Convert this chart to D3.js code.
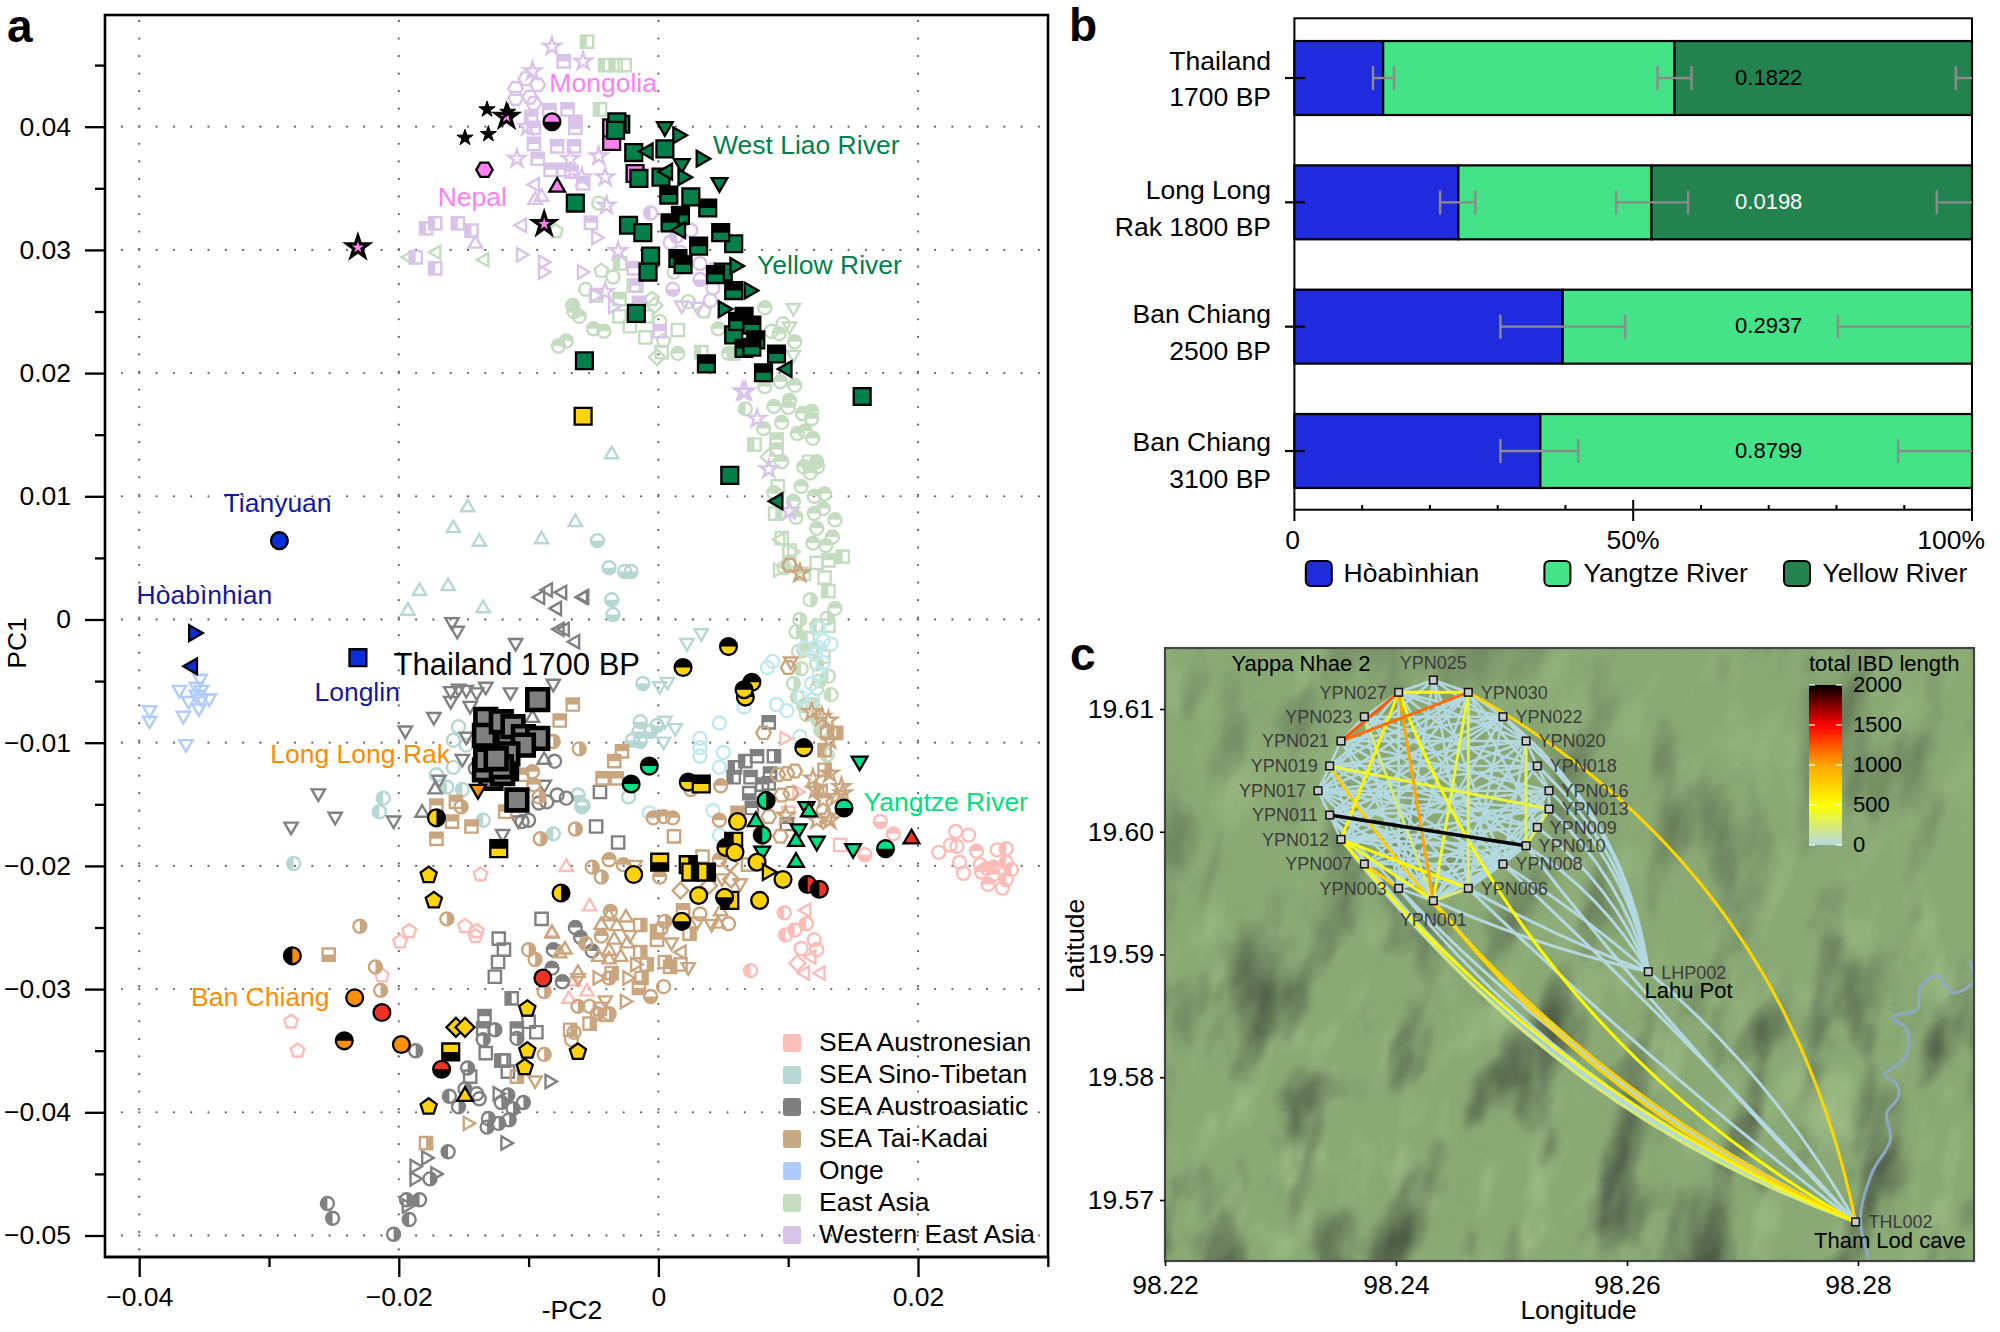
<!DOCTYPE html>
<html><head><meta charset="utf-8">
<script src="https://cdnjs.cloudflare.com/ajax/libs/d3/7.8.5/d3.min.js"></script>
<style>html,body{margin:0;padding:0;background:#fff}svg{display:block}text{font-family:"Liberation Sans",Arial,sans-serif}</style>
</head><body><svg id="fig" width="2000" height="1332"></svg>
<script>
// ---------- panel a: values are PC2 x 1000 and PC1 x 1000, code = shape + filled half ----------
const westernEastAsia = [
[-8.2,46.5,"*o"],[-5.8,45.3,"*o"],[-9.7,44.5,"*o"],[-10.1,40,"*o"],[-10.9,37.4,"*o"],[-6.8,37.4,"*o"],[-4.6,37.6,"*o"],[-4.1,35.9,"*o"],[-5.9,35.9,"*o"],[-4,33.6,"*o"],[-3.1,29.9,"*o"],[-4.1,26.6,"*o"],[6.5,18.5,"*o"],[7.6,16.3,"*o"],[8.5,12.2,"*o"],[10.1,8.8,"*o"],[6.7,18.5,"*o"],
[-11,43.1,"ho"],[-10.2,43.9,"ho"],[-11,42.3,"ho"],[-9.9,42.4,"ho"],[-9.3,43.4,"ho"],[-9.6,41.9,"ho"],
[-8.4,41.35,"st"],[-7,41.4,"st"],[-6.4,40.4,"st"],[-6.4,39.9,"st"],[-9.6,38.6,"st"],[-7.8,38.4,"st"],[-6.5,38.4,"st"],[-9.3,37.4,"st"],[-8.3,36.5,"st"],[-7.3,36.5,"st"],[-6.7,36.35,"st"],[-5.8,35.4,"st"],[-5.2,32.2,"st"],[-9.8,40.8,"st"],[-9.6,39.9,"st"],[-7.3,45.3,"st"],[0.1,23.4,"st"],[-1.9,28.5,"st"],[-1.7,27.1,"st"],[-1.5,25.7,"st"],
[-17.9,31.75,"sL"],[-17.2,32.15,"sL"],[-15.45,32.15,"sL"],[-14.4,31.56,"sL"],[-18.7,29.4,"sL"],[-17.2,28.5,"sL"],
[-10.5,32,"lo"],[-9.5,35.3,"lo"],[-10.6,29.6,"ro"],[-8.9,29,"ro"],[-8.9,28.2,"ro"],[-5.9,28.2,"ro"],[-4.8,31,"ro"],[-3.5,25.4,"ro"],[-4.9,26.3,"ro"],[-9.5,34.05,"uo"],[-14.1,30.5,"uo"],[-9,34.3,"uo"],
[-0.6,33,"cL"],[1.4,31.1,"cL"],[1.1,26.8,"cb"],[3.2,27.6,"cb"],[4.2,28.4,"cL"],[3.2,28.9,"co"],[4.2,26.9,"co"],[4,25.9,"co"],[1.8,25.5,"do"],[3,25.4,"do"],[2.5,31.6,"co"],[0.9,30.6,"co"],[1.7,29.8,"cb"]];
const eastAsia = [
[-5.5,46.9,"sL"],[-4.1,45,"sL"],[-3.3,45,"sL"],[-2.6,45,"so"],[-4.5,41.4,"sL"],[-4.6,33.8,"co"],[-3.5,27.8,"co"],[-5.6,26.8,"co"],[-6.6,25.5,"ct"],[-6.5,25,"ct"],[-6.1,24.6,"ct"],[-5,23.6,"ct"],[-4.2,23.4,"ct"],[-7.7,22.2,"ct"],[-7.1,22.6,"ct"],
[-7.9,31.5,"po"],[-4.4,28.3,"po"],[-17.1,29.8,"lo"],[-13.4,29.2,"lo"],[-19.2,29.4,"lo"],[-0.5,26,"po"],[3.5,25,"po"],[0.4,22.6,"po"],[1.2,28.2,"co"],
[-2.95,28.9,"sL"],[-3,24.6,"so"],[-2.2,23.8,"so"],[-1,22.9,"so"],[1.5,23.5,"so"],[0.25,21.7,"so"],[3.3,21.7,"sL"],[-1.9,27.1,"so"],[-3,26,"st"],[-0.9,24.6,"so"],[-4.8,26.3,"so"],[-0.1,21.3,"mo"],[-0.3,25.5,"mo"],
[0.1,24.2,"co"],[2.3,25.8,"co"],[1.5,21.6,"ct"],[4.6,23.6,"ct"],[5.4,21.6,"ct"],[8.2,25.3,"ct"],[8.7,23.4,"co"],[10.4,25.3,"do"],[10.1,23.8,"do"],[10.4,21.5,"do"],[5.8,21.6,"sL"],[9.3,23.2,"ct"],[9.6,24,"co"],
[10.5,22.55,"ct"],[10.5,19,"ct"],[9.4,19.3,"ct"],[8.2,18.9,"ct"],[8.9,17.3,"ct"],[10.1,17.8,"ct"],[10,17.2,"ct"],[11.1,16.7,"ct"],[11.8,16.9,"ct"],[11.8,16.3,"ct"],[9.5,16,"ct"],[8.1,15.5,"ct"],[10.7,15.1,"ct"],[11.3,15.3,"ct"],[11.9,14.7,"ct"],[9.5,12.8,"ct"],[11.2,12.4,"ct"],[12.25,12.4,"ct"],[12.2,12.8,"ct"],[11.7,11.9,"ct"],[11,10.8,"ct"],[8.9,10.3,"ct"],[10.4,9.6,"ct"],[12,10,"ct"],[12.8,10.2,"ct"],[12.7,9,"ct"],[12,8.6,"ct"],[10.6,8.3,"ct"],[13.6,8.1,"ct"],[12.2,7.4,"ct"],[13.4,6.7,"ct"],[11.9,6.2,"ct"],[12.9,6,"ct"],[11.7,1.6,"cR"],[13.6,0.9,"ct"],[10.9,0,"cR"],[13,0.1,"cR"],[6.7,17.1,"cL"],
[7.4,14.2,"sL"],[9.1,14.6,"st"],[9.1,13.8,"st"],[11.6,12.8,"so"],[9,8.6,"sR"],[9.2,10.8,"so"],[9.5,6.6,"so"],[10.1,5.6,"so"],[14.2,5.1,"sL"],[12.2,4.6,"so"],[13.1,4.8,"st"],[11.2,3.7,"st"],[12.8,3.4,"so"],[13.1,2.3,"sL"],[9.4,6.5,"lo"],[10.3,5.5,"ro"],[9.2,4,"ro"],[8.5,13.2,"mo"],[10.1,4.7,"cL"],
[9.7,4.2,"cR"],[10.6,-1,"cR"],[12.2,-0.5,"cL"],[13.1,-0.5,"so"],[11.2,-2.5,"ct"],[12.2,-3.6,"cR"],[13.1,-4.6,"cL"],[12.2,-5.6,"co"],[13.3,-6.1,"cL"],[11.4,-7.7,"co"],[12.3,-8.2,"cL"],[12.7,-3,"so"],[11.5,-1.5,"cL"],[11.9,-6.9,"cR"],[11.2,-7,"cL"],[12.5,-9,"cL"],[13,-11,"cL"],[11,-4,"cL"],[10.4,-5.2,"cR"],[10.7,-6.3,"cL"],[12,-2.4,"ct"],[10.8,-2.6,"cR"],[12.4,-5,"cR"]];
const cyanGroup = [
[12.3,-0.7],[11.3,-2.3],[12.2,-2.2],[12.7,-1.7],[13.3,-2],[12.1,-2.8],[8.8,-3.4],[8.4,-3.9],[12.4,-4.4],[11.8,-5.2],[11,-6.3],[11.9,-6.5],[9.1,-6.9],[9.9,-7.4],[6.6,-7.1],[10.9,-9.5],[4.7,-8.4],[3.2,-9.65],[3.2,-11.1],[5,-10.8],[4.7,-12],[4.2,-15.5],[-0.7,-15.7],[4.7,-17.5],[3.2,-10.4],[12.7,-3.5]];
const onge = [
[-35.3,-4.8],[-36.9,-5.7],[-35.2,-5.7],[-35.6,-6.1],[-36.2,-6.6],[-35.2,-6.4],[-34.6,-6.4],[-35.4,-7.2],[-36.6,-7.8],[-39.2,-7.35],[-39.2,-8.2],[-36.4,-10.1],[-35.6,-5.45]];
const seaSinoTibetan = [
[-14.7,9.1,"uo"],[-15.8,7.4,"uo"],[-13.8,6.3,"uo"],[-9,6.5,"uo"],[-6.4,7.9,"uo"],[-3.6,13.4,"uo"],[-18.4,2.3,"uo"],[-16.2,2.7,"uo"],[-19.3,0.7,"uo"],[-13.5,0.9,"uo"],
[-4.7,6.4,"cb"],[-3.8,4.2,"cb"],[-3.6,1.6,"cb"],[-3.5,0.4,"cb"],[-2.6,3.9,"cb"],[-2.1,3.9,"cb"],[-1.2,-5.2,"cb"],[-1.4,-8.3,"cb"],[-0.6,-9.1,"cb"],[-0.1,-8.6,"cb"],[-2,-9.8,"cb"],[-1.4,-9.9,"cb"],[-1.5,-9.1,"cb"],[-6.2,-14.25,"cb"],[-5.8,-15.1,"cb"],[-2.3,-14.4,"co"],
[3.3,-1.1,"do"],[2.2,-1.9,"do"],[0.7,-5.05,"do"],[0.1,-5.4,"do"],[0.5,-8.2,"do"],[1.3,-8.8,"do"],[0.4,-9.9,"do"],
[-15.4,-8.7,"co"],[-15.8,-9.8,"co"],[-14.8,-10.2,"co"],[-15.8,-12,"co"],[-17.1,-12.6,"co"],[-16.3,-13.6,"cL"],[-15.1,-13.8,"cL"],[-13.5,-16.3,"cL"],[-21.2,-14.5,"cL"],[-21.5,-15.6,"cL"],[-6.2,-14.25,"co"],[-5.9,-15.2,"co"],[-8.1,-17.4,"cL"],[-28.1,-19.8,"cL"]];
const seaAustroasiatic = [
[-15.9,-0.2,"do"],[-15.5,-0.9,"do"],[-11,-1.9,"do"],[-11.4,-5.9,"do"],[-16,-5.8,"do"],[-15.4,-5.6,"do"],[-14.8,-5.7,"do"],[-14,-5.9,"do"],[-13.3,-5.45,"do"],[-16,-6.6,"do"],[-14.5,-7,"do"],[-17.3,-7.9,"do"],[-19.5,-9,"do"],[-14.8,-9.5,"do"],[-15.1,-11.3,"do"],[-16.9,-13,"do"],[-26.2,-14.1,"do"],[-24.9,-16,"do"],[-28.3,-16.8,"do"],[-20.4,-16.3,"do"],[-12,-17.4,"do"],[-10.8,-16.3,"do"],[-8.8,-13.4,"do"],[-8.1,-5.2,"do"],
[-17.2,-13.8,"uo"],[-18.2,-15.7,"uo"],[-9.7,-8,"uo"],[-8.8,-11.4,"uo"],
[-8.5,2.4,"lo"],[-9.1,1.8,"lo"],[-7.4,2.2,"lo"],[-5.8,1.8,"lo"],[-7.8,0.9,"lo"],[-7.2,-0.8,"lo"],[-7.6,-0.8,"lo"],[-6.4,-1.8,"lo"],[-5.7,1.85,"lo"],
[-8,-11.5,"co"],[-7.8,-14.25,"co"],[-7.1,-14.5,"co"],[-9.2,-14.9,"co"],[-10.5,-16.4,"co"],[-10,-16.3,"co"],[-8.6,-14.8,"co"],[-14.1,-12.1,"co"],
[-4.5,-14,"so"],[-4.8,-16.8,"so"],[-3.1,-18.1,"so"],
[8.5,-8.35,"st"],[8.9,-11.1,"sR"],[7.6,-11.1,"st"],[6.7,-11.5,"sL"],[5.9,-12,"sL"],[5.8,-12.8,"sL"],[7.1,-12.8,"st"],[8,-13.4,"st"],[7,-14.1,"sb"],[8.5,-13.3,"st"],[7.2,-15.3,"st"],[9.9,-16.6,"st"],[8.6,-12.5,"st"],
[-9,-24.3,"so"],[-12.3,-25.9,"so"],[-11.9,-26.8,"so"],[-12.35,-27.8,"so"],[-12.6,-29,"so"],[-11.3,-30.75,"sL"],[-13.4,-32.2,"st"],[-13.5,-33.2,"st"],[-10.9,-33.2,"st"],[-9.4,-33.5,"so"],[-10,-32.65,"so"],[-13.3,-35.2,"so"],[-12.1,-35.8,"sL"],[-14.5,-37.1,"so"],[-11.6,-36.7,"so"],[-11.9,-35.8,"so"],
[-6.4,-25,"ct"],[-6,-25.8,"ct"],[-5.1,-26.9,"ct"],[-8.1,-26.8,"ct"],[-8.2,-28.3,"ct"],[-7.4,-29.4,"ct"],[-18.7,-35,"cR"],[-12.6,-33.3,"cR"],[-13.5,-34.1,"cR"],[-10.9,-34,"cR"],[-14.7,-36.4,"cR"],[-16.1,-38.7,"cL"],[-14.9,-38.1,"cR"],[-14,-38.5,"co"],[-15.4,-39.55,"cR"],[-13.8,-38.9,"co"],[-11.6,-38.6,"cR"],[-12.1,-39.2,"cR"],[-10.4,-39.2,"cR"],[-11.2,-39.7,"cR"],[-13.1,-40.5,"cR"],[-11.5,-40.6,"cR"],[-12.3,-40.9,"cR"],[-13.2,-41.2,"cR"],[-16.2,-43.2,"cL"],[-17.6,-45.4,"cR"],[-18.4,-47.1,"cL"],[-19.4,-47.1,"cR"],[-25.5,-47.4,"cL"],[-25.1,-48.6,"cL"],[-19.2,-48.7,"cL"],[-20.4,-49.9,"cR"],
[-8.4,-37.5,"ro"],[-11.8,-42.5,"ro"],[-17.9,-43.7,"ro"],[-18.8,-44.4,"ro"],[-18.8,-45.4,"ro"],[-17.2,-45,"ro"],[-12.4,-38.5,"ro"],[-19.4,-47.6,"ro"]];
const seaTaiKadai = [
[-6.6,-6.9,"st"],[-7.6,-8.2,"st"],[-3.4,-11.5,"st"],[-4.3,-12.9,"st"],[-17.1,-15.1,"st"],[-15.6,-14.8,"st"],[-14.4,-16.8,"st"],[-15.9,-16.4,"st"],[-17.1,-17.8,"st"],[-11.8,-15.6,"st"],[-10.5,-12.6,"st"],[-2.8,-10.7,"st"],[-3.2,-12.9,"st"],
[-8.1,-9.9,"cR"],[-6.1,-10.5,"cR"],[-9.7,-12.35,"ct"],[-9.6,-13.4,"ct"],[-15.2,-15.2,"cR"],[-9.2,-14.4,"cR"],[-6.4,-17,"cR"],[-9.1,-17.8,"cR"],[0.4,-16,"ct"],[-0.4,-16.1,"ct"],[1.1,-16.1,"ct"],[4.7,-16.3,"ct"],[4.8,-13.5,"ct"],[2.5,-13.8,"ct"],[-5.1,-20.1,"cR"],[-3.8,-19.5,"ct"],[-2.7,-19.9,"ct"],[-4.4,-20.9,"cR"],[0.1,-20.9,"ct"],[4.7,-19.5,"ct"],
[1.2,-17.6,"so"],[3.4,-19.25,"so"],[6.1,-15.7,"st"],[-1.8,-19.9,"do"],[1.7,-22,"mo"],[5.5,-19.8,"mo"],[6.3,-21.4,"do"],[4.9,-21,"do"],[5.6,-21.1,"mo"],[6.9,-19.9,"so"],[7.9,-17.5,"ct"],[3.9,-21.6,"mo"],
[8.1,-9.2,"ho"],[10,-3.9,"ho"],[9.2,-12.6,"ho"],[9.9,-12.5,"ho"],[10.5,-12.3,"ho"],[9.5,-14.25,"ho"],[10.2,-14.1,"ho"],[8.5,-16,"ho"],[9.4,-17.6,"ho"],[10.1,4.4,"ho"],[10.2,-3.4,"do"],
[10.9,3.75,"*o"],[11.8,-7.5,"*o"],[12.6,-7.9,"*o"],[13.1,-8.2,"*o"],[13.2,-9.8,"*o"],[11.9,-12.9,"*o"],[13.2,-12.5,"*o"],[14.1,-13.6,"*o"],[12.1,-13.8,"*o"],[12.7,-14.65,"*o"],[13.7,-14.4,"*o"],[13.2,-16.3,"*o"],[12.2,-16.3,"*o"],[13,-16,"*o"],[14.2,-14.1,"*o"],[9.8,-15.9,"*o"],
[13,-9.2,"sR"],[13.7,-9.2,"sR"],[12.8,-12.2,"sR"],[12.8,-10.6,"sL"],[12.5,-13.9,"sL"],
[-3.7,-23.7,"ct"],[-4.4,-25.7,"ct"],[-5.6,-26.3,"cL"],[-3.8,-29.1,"cR"],[-6.2,-31.4,"cR"],[-5.3,-31.4,"co"],[-4.7,-32,"cR"],[-3.8,-32,"cR"],[0.4,-29.8,"co"],[-0.6,-30.6,"cb"],[0.2,-25.1,"co"],[0.5,-24.5,"cR"],[3.2,-23.9,"co"],[5.4,-24.7,"co"],[-6.5,-33.5,"co"],[-6.7,-34.1,"co"],
[-3.8,-24.1,"uo"],[-4.4,-24.8,"uo"],[-2.5,-24.2,"uo"],[-3.2,-24.9,"uo"],[-3.4,-26,"uo"],[-2.4,-26.3,"uo"],[-3.8,-26.9,"uo"],[-2.9,-27.4,"uo"],[-3.8,-27.6,"uo"],[-4.6,-27.4,"uo"],[-7.2,-26.8,"uo"],[-7.6,-27.1,"uo"],[-6.2,-28.7,"uo"],[-6.2,-29.1,"do"],[-8.2,-25.5,"uo"],[4.6,-24.7,"uo"],[4.8,-23.7,"uo"],
[-1.4,-24.8,"sR"],[-0.1,-25.3,"sL"],[-0.1,-26,"st"],[-1.4,-27,"sR"],[-0.9,-28,"sR"],[0.5,-27.8,"sR"],[0.9,-28.2,"sR"],[-1.3,-29.1,"sR"],[-1.5,-29.9,"sb"],[-3.6,-28.7,"sR"],[1.9,-23.6,"st"],[2.4,-25.5,"sR"],[1.7,-28,"so"],[-6.8,-33.3,"sR"],[-5.3,-32.8,"sR"],[-4,-32.1,"so"],[-4.5,-31.6,"so"],
[-2.2,-25.6,"do"],[1,-26.2,"do"],[2.3,-28.2,"do"],[4.1,-24.7,"do"],[3,-24.5,"do"],[-4.1,-30.9,"do"],[1.8,-27,"lo"],[-2.6,-31,"ro"],[-4.7,-29.1,"ro"],[-2.4,-29.1,"ro"],[-1.8,-28,"ro"],
[-23,-24.9,"cR"],[-25.4,-27.2,"sb"],[-21.8,-28.2,"cR"],[-21.4,-30.1,"cR"],[-16.3,-24.3,"cR"],[-10,-26.8,"cR"],[-9.5,-27.6,"cR"],[-8.8,-30.2,"cR"],[-8.8,-35.3,"cR"],[-10.9,-37.1,"sR"],[-9.5,-37.4,"do"],[-14.7,-40.9,"ro"],[-17.9,-42.5,"sR"]];
const seaAustronesian = [
[22.9,-17.2,"co"],[23.9,-17.5,"co"],[22.5,-18.3,"co"],[23,-18.4,"co"],[21.6,-18.9,"co"],[23.2,-19.7,"co"],[24.5,-18.8,"ct"],[26.1,-18.7,"co"],[26.8,-18.6,"cL"],[23.5,-20.6,"co"],[24.8,-19.9,"co"],[25.3,-20.2,"ct"],[25.8,-20.1,"ct"],[24.9,-20.5,"ct"],[26.8,-19.7,"cL"],[27.2,-20.3,"cL"],[25.8,-20.7,"ct"],[26.8,-21.1,"cL"],[25.4,-21.5,"ct"],[26.5,-21.8,"co"],[18.1,-17.4,"ct"],[17.1,-16.4,"cb"],[15.9,-19.1,"cb"],
[14,-18.3,"so"],[10,-15.7,"so"],[9.7,-9.65,"ro"],[10.7,-14,"ro"],[-7.1,-20.1,"uo"],[-5.3,-23.3,"uo"],[-5.5,-30.2,"uo"],[-6.9,-30.8,"uo"],[-6.5,-29.4,"uo"],
[9.7,-23.8,"cL"],[9.8,-25.6,"cL"],[10.5,-25.2,"cL"],[11.4,-24.7,"cL"],[12,-26,"co"],[12.2,-26.8,"co"],[11,-26.7,"co"],[10.7,-27.9,"mo"],[11.3,-28.7,"lo"],[12.5,-28.7,"lo"],[7.1,-28.5,"cL"],[11.4,-23.6,"lo"],[11.8,-27.4,"lo"],
[-19.2,-25.3,"po"],[-19.9,-26.15,"po"],[-14.9,-24.9,"po"],[-14.1,-25.7,"po"],[-21.3,-28.9,"po"],[-28.3,-32.65,"po"],[-27.8,-35,"po"],[-13.7,-20.7,"po"],[-14,-25.3,"po"],[-8.2,-25.4,"uo"]];
// ancient samples: [PC2, PC1, shape, colour name, half drawn black]
const pinkSquares = [[-3.6,38.8],[-3.6,39.9],[-1.8,36.2]];
const riverSquares = [[-2.9,40.2],[-3.2,40.4],[-3.3,39.7],[-1.9,37.9],[0.5,38.2],[-1.5,35.8],[0.2,35.9],[2.5,34.3],[-2.3,32],[-1.2,31.4],[5.8,30.5],[-0.6,29.5],[-0.8,28.2],[5,28.2],[-1.7,24.85],[5.8,23.1],[-5.7,21],[15.7,18.1],[-6.4,33.8],[5.5,11.7]];
const riverSquaresHalf = [[0.8,34.45],[3.8,33.4],[1.7,32.8],[0.9,32.2],[4.8,31.4],[3.1,30.3],[1.5,29.3],[1.9,28.8],[4.4,28],[5.8,26.7],[6.6,24.6],[6.1,24.2],[7.2,23.9],[7.5,22.7],[6.6,22],[7.2,22.1],[9.1,21.55],[3.7,20.75],[8.1,20.03]];
const riverTriangles = [[0.5,40,"d"],[1.5,39.3,"r"],[-0.8,38,"l"],[3.3,37.4,"r"],[1.8,37,"d"],[0.7,36.35,"l"],[1.9,35.9,"r"],[4.7,35.45,"d"],[5.9,28.7,"r"],[7,26.7,"r"],[5,25.2,"r"],[9.9,20.33,"l"],[1.7,31.6,"l"],[9.2,9.6,"l"]];
const thailand1700 = [[-9.3,-6.5],[-13.3,-10.3],[-12.8,-9.4],[-11.6,-9.8],[-11.7,-12.1],[-12.9,-12.9],[-13.4,-12.2],[-13.3,-8.1],[-13.4,-9.4],[-12.1,-8.3],[-11.2,-8.7],[-10.4,-9.5],[-9.3,-9.65],[-10.4,-10.2],[-11.6,-10.9],[-13.3,-11.4],[-12,-12.5],[-12.1,-11.95],[-12.5,-11.3],[-10.9,-14.65]];
const ancientMarks = [
[-23.15,30.2,"*","pink","n"],[-8.8,32.1,"*","pink","n"],[-11.7,40.8,"*","pink","n"],[-13.2,41.4,"*","black","n"],[-11.6,41.2,"*","black","n"],[-13.1,39.4,"*","black","n"],[-14.9,39.1,"*","black","n"],[-13.4,36.5,"h","pink","n"],[-8.2,40.4,"c","pink","b"],[-7.8,35.1,"u","pink","n"],
[-29.2,6.4,"c","blue","n"],[-35.8,-1.1,"r","blue","n"],[-35.9,-3.8,"l","blue","n"],[-23.15,-3.1,"s","blue","n"],[-5.8,16.5,"s","yellow","n"],
[-13.9,-13.8,"d","orange","n"],[-17.1,-16.1,"c","yellow","r"],
[5.4,-2.2,"c","yellow","t"],[1.9,-3.9,"c","yellow","t"],[7.2,-5.1,"c","yellow","t"],[6.7,-6.3,"c","yellow","t"],[6.6,-5.7,"c","yellow","t"],[11.2,-10.4,"c","yellow","t"],
[-0.7,-11.9,"c","green","t"],[-2.1,-13.35,"c","green","t"],[2.3,-13.2,"c","yellow","t"],[3.3,-13.35,"s","yellow","t"],
[8.3,-14.7,"c","green","r"],[8,-17.5,"c","green","l"],[14.3,-15.3,"c","green","b"],[17.5,-18.6,"c","green","b"],
[15.5,-11.5,"d","green","n"],[11.4,-15.2,"d","green","n"],[12.2,-18,"d","green","n"],[15,-18.6,"d","green","n"],[8,-18.8,"d","green","n"],[10.8,-17,"d","green","n"],
[11.6,-15.6,"u","green","n"],[7.5,-16.4,"u","green","n"],[10.6,-18,"u","green","n"],[10.6,-19.7,"u","green","n"],
[19.5,-17.8,"u","red","n"],[11.5,-21.5,"c","red","l"],[12.4,-21.9,"c","red","l"],
[5.8,-18,"s","yellow","l"],[0.1,-19.7,"s","yellow","b"],[2.3,-19.9,"s","yellow","r"],[2.5,-20.5,"s","yellow","r"],[3.7,-20.5,"s","yellow","r"],[5.5,-22.8,"s","yellow","l"],
[6.1,-16.4,"c","yellow","n"],[5.2,-18.5,"c","yellow","t"],[5.9,-18.9,"c","yellow","n"],[7.6,-19.7,"c","yellow","n"],[-1.9,-20.7,"c","yellow","n"],[9.6,-21.1,"c","yellow","n"],[3.1,-22.4,"c","yellow","n"],[7.8,-22.8,"c","yellow","n"],[5.1,-22.55,"c","yellow","b"],[1.8,-24.5,"c","yellow","b"],[-7.5,-22.2,"c","yellow","r"],
[8.4,-20.5,"r","yellow","n"],[-12.3,-18.6,"s","yellow","t"],
[-28.2,-27.3,"c","orange","l"],[-23.4,-30.7,"c","orange","n"],[-19.8,-34.5,"c","orange","n"],[-24.2,-34.2,"c","orange","t"],[-21.3,-31.9,"c","red","n"],[-8.9,-29.1,"c","red","n"],[-16.7,-36.5,"c","red","b"],
[-10.1,-31.6,"p","yellow","n"],[-10.1,-35,"p","yellow","n"],[-6.2,-35.1,"p","yellow","n"],[-10.3,-36.35,"p","yellow","n"],[-17.7,-39.55,"p","yellow","n"],[-17.7,-20.75,"p","yellow","n"],[-17.3,-22.8,"p","yellow","n"],
[-15.6,-33.1,"m","yellow","n"],[-14.9,-33.1,"m","yellow","n"],[-14.9,-38.7,"u","yellow","n"],[-16,-35.1,"s","yellow","b"]];
const colourNames = ["pink","blue","yellow","orange","green","red","black"];
const colourValues = ["#ff80f2","#0a2fd8","#ffd30a","#ff8f05","#00df85","#ee3224","#000000"];
const pcaLabelText = ["Mongolia","Nepal","West Liao River","Yellow River","Tianyuan","Hòabìnhian","Longlin","Thailand 1700 BP","Long Long Rak","Ban Chiang","Yangtze River"];
const pcaLabelPC2 = [-8.4,-17,4.2,7.6,-33.5,-40.2,-26.5,-20.4,-29.9,-36,15.8];
const pcaLabelPC1 = [43.6,34.3,38.5,28.8,9.5,2,-5.9,-3.6,-10.9,-30.6,-14.8];
const pcaLabelColours = ["#ff80f2","#ff80f2","#007f4f","#007f4f","#14199c","#14199c","#14199c","#000000","#ff8c00","#ff8c00","#00e080"];
const pcaLegendNames = ["SEA Austronesian","SEA Sino-Tibetan","SEA Austroasiatic","SEA Tai-Kadai","Onge","East Asia","Western East Asia"];
const pcaLegendColours = ["#fdbdb8","#b7d7d5","#7f7f7f","#c8a783","#afcbfb","#c4dcbf","#d9c3e8"];
// ---------- panel b ----------
const samples = ["Thailand|1700 BP","Long Long|Rak 1800 BP","Ban Chiang|2500 BP","Ban Chiang|3100 BP"];
const sampleLabelShift = [-17.5,-12.5,-13,-9];
const hoabinhian = [13.1,24.2,39.6,36.3];
const yangtze = [43,28.5,60.4,63.7];
const yellowRiver = [43.9,47.3,0,0];
const pValues = ["0.1822","0.0198","0.2937","0.8799"];
const pValueColours = ["#000","#fff","#000","#000"];
const errorBars = [[0,11.6,14.7],[0,53.6,58.6],[0,97.6,100],[1,21.5,26.7],[1,47.5,58.1],[1,94.8,100],[2,30.4,48.8],[2,80.2,100],[3,30.4,41.9],[3,89.1,100]];
const ancestryNames = ["Hòabìnhian","Yangtze River","Yellow River"];
const ancestryColours = ["#1f2bdc","#45e388","#22834f"];
// ---------- panel c ----------
const nodeIds = [25,27,30,23,22,21,20,19,18,17,16,13,11,9,12,10,7,8,3,6,1];
const nodeLon = [98.24323,98.24023,98.24626,98.23726,98.24926,98.23524,98.25126,98.23426,98.25223,98.23325,98.25325,98.25325,98.23426,98.25223,98.23524,98.25126,98.23726,98.24926,98.24023,98.24626,98.24323];
const nodeLat = [19.61236,19.61136,19.61136,19.60937,19.60937,19.60739,19.60739,19.60536,19.60536,19.60334,19.60334,19.60185,19.60136,19.60036,19.59938,19.59886,19.59737,19.59737,19.59539,19.59539,19.59438];
const nodeSide = ["top","left","right","left","right","left","right","left","right","left","right","right","left","right","left","right","left","right","left","right","bottom"];
const outerSites = ["LHP002","THL002"];
const outerLon = [98.26184,98.27979];
const outerLat = [19.5886,19.56821];
const paleIBD = 5;
const palePairs = [[27,25],[25,30],[30,22],[22,20],[20,18],[18,16],[16,13],[13,9],[9,10],[10,8],[8,6],[6,1],[1,3],[3,7],[7,12],[12,11],[11,17],[17,19],[19,21],[21,23],[23,27],
[25,6],[25,3],[25,8],[25,19],[25,20],[27,8],[27,13],[27,20],[27,22],[27,3],[27,17],[30,3],[30,12],[30,19],[30,17],[30,11],[30,9],[30,16],
[23,22],[23,18],[23,13],[23,10],[23,8],[23,3],[21,22],[21,20],[21,16],[21,10],[21,6],[21,1],[19,20],[19,18],[19,9],[19,8],[19,1],[19,7],
[17,22],[17,18],[17,16],[17,13],[17,9],[17,8],[17,6],[17,1],[11,22],[11,20],[11,16],[11,13],[11,8],[11,6],[11,3],
[12,22],[12,18],[12,13],[12,9],[12,10],[12,8],[7,20],[7,16],[7,10],[7,8],[7,6],[3,22],[3,16],[3,10],[3,8],[1,20],[1,18],[1,13],[1,10],[1,8],[6,22],[6,16],[6,9],[8,20],[8,16],[8,13]];
const hotEdges = [[23,1,210],[20,10,330],[13,10,300],[30,6,280],[19,13,360],[30,1,370],[12,1,420],[6,1,250],[12,6,520],[27,12,560],[27,30,520],[7,3,780],[27,1,1000],[30,21,1170],[27,21,1230],[11,10,2000]];
// distant edges: from, to, total IBD, bend as a share of the distance
const longEdges = [
[20,"LHP002",5,0.18],[18,"LHP002",5,0.17],[16,"LHP002",5,0.16],[13,"LHP002",5,0.14],[9,"LHP002",5,0.14],[10,"LHP002",5,0.12],[8,"LHP002",5,0.04],[6,"LHP002",5,-0.04],[1,"LHP002",5,-0.05],[22,"LHP002",5,0.2],
["LHP002","THL002",5,0.09],[8,"THL002",5,0.02],[10,"THL002",5,-0.03],[6,"THL002",5,-0.03],
[12,"THL002",5,-0.14],[3,"THL002",5,-0.13],[11,"THL002",5,-0.145],[1,"THL002",5,-0.12],[7,"THL002",230,-0.145],[3,"THL002",5,-0.09],
[30,"THL002",730,0.23],[27,"THL002",520,-0.18],[19,"THL002",760,-0.14],[1,"THL002",730,-0.13],[12,"THL002",540,-0.125]];
const riverLon = [98.2897,98.29,98.2882,98.2869,98.2854,98.2851,98.283,98.2843,98.2841,98.2823,98.2833,98.2835,98.2825,98.2828,98.2812,98.2802,98.281];
const riverLat = [19.5895,19.5878,19.5869,19.5883,19.5873,19.5855,19.5849,19.5838,19.5816,19.5802,19.5795,19.5784,19.5771,19.5749,19.5722,19.5684,19.5651];
const ibdStops = [0,500,1000,1500,2000];
const ibdColours = ["#b3d8e2","#ffff00","#ffa500","#ff0000","#000000"];

// ==================================================================
const svg = d3.select("#fig");
const FS = 26.5;
const defs = svg.append("defs");
[["t",-30,-30,60,30],["b",-30,0,60,30],["L",-30,-30,30,60],["R",0,-30,30,60]].forEach(c=>{
  defs.append("clipPath").attr("id","half"+c[0]).append("rect").attr("x",c[1]).attr("y",c[2]).attr("width",c[3]).attr("height",c[4]);
});
const deg = Math.PI/180;
const radial = d3.lineRadial().curve(d3.curveLinearClosed);
const poly = (angles,r)=>radial(angles.map(a=>[a*deg,r]));
const triAngles = {u:[0,120,240],d:[180,300,60],r:[90,210,330],l:[270,30,150]};
function markPath(s,base){
  if(s==="c") return d3.symbol(d3.symbolCircle,Math.PI*base*base)();
  if(s==="s") return d3.symbol(d3.symbolSquare,4*base*base*0.92)();
  if(s==="*") return d3.symbol(d3.symbolStar,Math.pow(base*1.42,2)/0.8908)();
  if(s==="p") return poly([0,72,144,216,288],base*1.12);
  if(s==="h") return poly([30,90,150,210,270,330],base*1.14);
  if(s==="m") return poly([0,90,180,270],base*1.25);
  return poly(triAngles[s],base*1.2);
}
// ---- panel a ----
const pa = {l:105,r:1048,t:15,b:1257};
const xA = d3.scaleLinear().domain([-0.04,0.02]).range([139.2,918]);
const yA = d3.scaleLinear().domain([-0.05,0.04]).range([1235.5,126.7]);
const gA = svg.append("g");
const dots = gA.append("g").attr("stroke","#666").attr("stroke-width",2.3).attr("stroke-linecap","round");
[-0.04,-0.02,0,0.02].forEach(v=>dots.append("line").attr("x1",xA(v)).attr("x2",xA(v)).attr("y1",21).attr("y2",1253).attr("stroke-dasharray","0 17.55"));
d3.range(-5,5).forEach(i=>dots.append("line").attr("x1",122).attr("x2",1040).attr("y1",yA(i*0.01)).attr("y2",yA(i*0.01)).attr("stroke-dasharray","0 17.3"));
function drawPale(data,colour,defCode,r,sw){
  const g = gA.append("g");
  data.forEach(d=>{
    const code = d[2]||defCode, s=code[0], h=code[1];
    const p = g.append("g").attr("transform",`translate(${xA(d[0]/1000)},${yA(d[1]/1000)})`);
    const rr = s==="c"?r+0.1:r;
    const path = markPath(s,rr);
    if(h!=="o") p.append("g").attr("clip-path",`url(#half${h})`).append("path").attr("d",path).attr("fill",colour);
    p.append("path").attr("d",path).attr("fill","none").attr("stroke",colour).attr("stroke-width",sw);
  });
}
drawPale(eastAsia,"#c4dcbf","co",6.4,2.4);
drawPale(westernEastAsia,"#d9c3e8","co",6.4,2.4);
drawPale(cyanGroup,"#bfe8ef","co",6.4,2.4);
drawPale(onge,"#b1ccfb","do",6.4,2.4);
drawPale(seaSinoTibetan,"#b6d7d4","co",6.4,2.4);
drawPale(seaAustronesian,"#fcbdb8","co",6.4,2.4);
drawPale(seaAustroasiatic,"#808080","co",6.4,2.4);
drawPale(seaTaiKadai,"#c9a67f","co",6.4,2.4);
const colourOf = d3.scaleOrdinal().domain(colourNames).range(colourValues);
function drawAncient(x,y,s,fill,half,r,sw){
  const p = gA.append("g").attr("transform",`translate(${xA(x/1000)},${yA(y/1000)})`);
  const path = markPath(s,r);
  p.append("path").attr("d",path).attr("fill",fill);
  const key = {t:"t",b:"b",l:"L",r:"R"}[half];
  if(key) p.append("g").attr("clip-path",`url(#half${key})`).append("path").attr("d",path).attr("fill","#000");
  p.append("path").attr("d",path).attr("fill","none").attr("stroke","#000").attr("stroke-width",sw).attr("stroke-linejoin","miter");
}
pinkSquares.forEach(d=>drawAncient(d[0],d[1],"s",colourOf("pink"),"n",8.8,2.3));
riverSquares.forEach(d=>drawAncient(d[0],d[1],"s","#007f4a","n",8.8,2.3));
riverSquaresHalf.forEach(d=>drawAncient(d[0],d[1],"s","#007f4a","t",8.8,2.3));
riverTriangles.forEach(d=>drawAncient(d[0],d[1],d[2],"#007f4a","n",7.6,2.3));
thailand1700.forEach(d=>drawAncient(d[0],d[1],"s","#808080","n",10.8,4.6));
ancientMarks.forEach(d=>{
  const r = d[2]==="c"?8.4:(d[2]==="s"?8.8:(d[2]==="*"?(d[3]==="black"?6:8):(d[2]==="h"?7.2:7.6)));
  drawAncient(d[0],d[1],d[2],colourOf(d[3]),d[4],r,d[3]==="black"?1:(d[2]==="*"?3.2:2.3));
});
const minus = s=>s.replace("-","\u2212");
const fmtA = v=>v===0?"0":minus(d3.format(".2f")(v));
const axisXMaj = d3.axisBottom(xA).tickValues([-0.04,-0.02,0,0.02]).tickSize(20).tickPadding(10).tickFormat(fmtA);
const axisXMin = d3.axisBottom(xA).tickValues([-0.03,-0.01,0.01,0.03]).tickSize(10).tickFormat("");
const axisYMaj = d3.axisLeft(yA).tickValues(d3.range(-5,5).map(i=>i/100)).tickSize(20).tickPadding(14).tickFormat(fmtA);
const axisYMin = d3.axisLeft(yA).tickValues([-0.045,-0.035,-0.025,-0.015,-0.005,0.005,0.015,0.025,0.035,0.045]).tickSize(10).tickFormat("");
function styleAxis(g,sw){g.select(".domain").remove();g.selectAll("line").attr("stroke","#000").attr("stroke-width",sw);g.selectAll("text").attr("font-size",FS).attr("fill","#000").attr("font-family",'"Liberation Sans"');}
gA.append("g").attr("transform",`translate(0,${pa.b})`).call(axisXMaj).call(styleAxis,2.3);
gA.append("g").attr("transform",`translate(0,${pa.b})`).call(axisXMin).call(styleAxis,2.3);
gA.append("g").attr("transform",`translate(${pa.l},0)`).call(axisYMaj).call(styleAxis,2.3);
gA.append("g").attr("transform",`translate(${pa.l},0)`).call(axisYMin).call(styleAxis,2.3);
gA.append("rect").attr("x",pa.l).attr("y",pa.t).attr("width",pa.r-pa.l).attr("height",pa.b-pa.t).attr("fill","none").attr("stroke","#000").attr("stroke-width",2.6);
gA.append("line").attr("x1",pa.l).attr("x2",xA(0.03)).attr("y1",pa.b).attr("y2",pa.b).attr("stroke","#000").attr("stroke-width",2.6);
pcaLabelText.forEach((t,i)=>{
  gA.append("text").attr("x",xA(pcaLabelPC2[i]/1000)).attr("y",yA(pcaLabelPC1[i]/1000)).attr("dy","0.35em")
    .attr("font-size",t==="Thailand 1700 BP"?31:FS).attr("fill",pcaLabelColours[i]).text(t);
});
pcaLegendNames.forEach((t,i)=>{
  const cy = 1043+i*32;
  gA.append("rect").attr("x",783).attr("y",cy-9).attr("width",18).attr("height",18).attr("rx",3).attr("fill",pcaLegendColours[i]);
  gA.append("text").attr("x",819).attr("y",cy-1).attr("dy","0.35em").attr("font-size",FS).text(t);
});
gA.append("text").attr("transform","translate(17,643) rotate(-90)").attr("text-anchor","middle").attr("dy","0.35em").attr("font-size",FS).text("PC1");
gA.append("text").attr("x",572).attr("y",1310).attr("text-anchor","middle").attr("dy","0.35em").attr("font-size",FS).text("-PC2");
[["a",7,42],["b",1069,41],["c",1070,670]].forEach(d=>svg.append("text").attr("x",d[1]).attr("y",d[2]).attr("font-size",46).attr("font-weight","bold").text(d[0]));

// ---- panel b ----
const pb = {l:1294.4,r:1972,t:18.3,b:509.7};
const xB = d3.scaleLinear().domain([0,100]).range([pb.l,pb.r]);
const yB = d3.scaleBand().domain(samples).range([15.85,513.15]).paddingInner(0.405).paddingOuter(0.2025);
const gB = svg.append("g");
gB.append("rect").attr("x",pb.l).attr("y",pb.t).attr("width",pb.r-pb.l).attr("height",pb.b-pb.t).attr("fill","none").attr("stroke","#000").attr("stroke-width",2);
const stackRows = samples.map((s,i)=>({s,Hoabinhian:hoabinhian[i],Yangtze:yangtze[i],Yellow:yellowRiver[i]}));
const stacked = d3.stack().keys(["Hoabinhian","Yangtze","Yellow"])(stackRows);
stacked.forEach((layer,k)=>{
  gB.append("g").selectAll("rect").data(layer.filter(d=>d[1]-d[0]>0)).join("rect")
    .attr("x",d=>xB(d[0])).attr("width",d=>xB(d[1])-xB(d[0])).attr("y",d=>yB(d.data.s)).attr("height",yB.bandwidth())
    .attr("fill",ancestryColours[k]).attr("stroke","#000").attr("stroke-width",2.2);
});
errorBars.forEach(e=>{
  const cy = yB(samples[e[0]])+yB.bandwidth()/2;
  const g = gB.append("g").attr("stroke","#8c8c8c").attr("stroke-width",2.4);
  g.append("line").attr("x1",xB(e[1])).attr("x2",xB(e[2])).attr("y1",cy).attr("y2",cy);
  g.append("line").attr("x1",xB(e[1])).attr("x2",xB(e[1])).attr("y1",cy-12).attr("y2",cy+12);
  if(e[2]<100) g.append("line").attr("x1",xB(e[2])).attr("x2",xB(e[2])).attr("y1",cy-12).attr("y2",cy+12);
});
samples.forEach((s,i)=>{
  const cy = yB(s)+yB.bandwidth()/2;
  gB.append("line").attr("x1",1285).attr("x2",1305).attr("y1",cy).attr("y2",cy).attr("stroke","#000").attr("stroke-width",2.2);
  s.split("|").forEach((t,j)=>gB.append("text").attr("x",1271).attr("y",cy+sampleLabelShift[i]+j*36.6).attr("dy","0.35em").attr("text-anchor","end").attr("font-size",FS).text(t));
  gB.append("text").attr("x",xB(70)).attr("y",cy-1).attr("dy","0.35em").attr("text-anchor","middle").attr("font-size",22).attr("fill",pValueColours[i]).text(pValues[i]);
});
d3.range(0,101,10).forEach(v=>{
  const major = v%50===0;
  gB.append("line").attr("x1",xB(v)).attr("x2",xB(v)).attr("y1",v===50?500:(major?pb.b:505)).attr("y2",major?521:pb.b).attr("stroke","#000").attr("stroke-width",2);
});
[[0,1292.6,"middle","0"],[50,1633,"middle","50%"],[100,1985,"end","100%"]].forEach(d=>gB.append("text").attr("x",d[1]).attr("y",539.5).attr("dy","0.35em").attr("text-anchor",d[2]).attr("font-size",FS).text(d[3]));
[[1305.8,1343.6],[1544.4,1583.4],[1784,1822.6]].forEach((p,i)=>{
  gB.append("rect").attr("x",p[0]).attr("y",561).attr("width",26).attr("height",25).attr("rx",5).attr("fill",ancestryColours[i]).attr("stroke","#000").attr("stroke-width",2);
  gB.append("text").attr("x",p[1]).attr("y",573).attr("dy","0.35em").attr("font-size",FS).text(ancestryNames[i]);
});

// ---- panel c ----
const pc = {l:1165,r:1974,t:648,b:1261};
const xC = d3.scaleLinear().domain([98.22,98.28]).range([1165,1858]);
const yC = d3.scaleLinear().domain([19.57,19.61]).range([1200,709]);
const ibdColour = d3.scaleLinear().domain(ibdStops).range(ibdColours);
const gC = svg.append("g");
defs.append("clipPath").attr("id","mapClip").append("rect").attr("x",pc.l).attr("y",pc.t).attr("width",pc.r-pc.l).attr("height",pc.b-pc.t);
const grad = defs.append("linearGradient").attr("id","maskGrad").attr("x1",0).attr("x2",0).attr("y1",0).attr("y2",1);
grad.append("stop").attr("offset","0").attr("stop-color","#8a8a8a");
grad.append("stop").attr("offset","0.4").attr("stop-color","#9a9a9a");
grad.append("stop").attr("offset","0.62").attr("stop-color","#fff");
grad.append("stop").attr("offset","1").attr("stop-color","#fff");
defs.append("mask").attr("id","mapMask").attr("maskUnits","userSpaceOnUse").attr("x",1000).attr("y",500).attr("width",1100).attr("height",900)
  .append("rect").attr("x",pc.l).attr("y",pc.t).attr("width",pc.r-pc.l).attr("height",pc.b-pc.t).attr("fill","url(#maskGrad)");
const f1 = defs.append("filter").attr("id","terrainDark").attr("x",0).attr("y",0).attr("width",1).attr("height",1).attr("color-interpolation-filters","sRGB");
f1.append("feTurbulence").attr("type","fractalNoise").attr("baseFrequency","0.02 0.008").attr("numOctaves",4).attr("seed",23);
f1.append("feColorMatrix").attr("type","matrix").attr("values","0 0 0 0 0.27  0 0 0 0 0.31  0 0 0 0 0.25  2.5 0 0 0 -1.24");
f1.append("feGaussianBlur").attr("stdDeviation",2.6);
const f2 = defs.append("filter").attr("id","terrainLight").attr("x",0).attr("y",0).attr("width",1).attr("height",1).attr("color-interpolation-filters","sRGB");
f2.append("feTurbulence").attr("type","fractalNoise").attr("baseFrequency","0.026 0.012").attr("numOctaves",3).attr("seed",4);
f2.append("feColorMatrix").attr("type","matrix").attr("values","0 0 0 0 0.66  0 0 0 0 0.78  0 0 0 0 0.56  1.8 0 0 0 -0.9");
f2.append("feGaussianBlur").attr("stdDeviation",1.5);
const map = gC.append("g").attr("clip-path","url(#mapClip)");
map.append("rect").attr("x",pc.l).attr("y",pc.t).attr("width",pc.r-pc.l).attr("height",pc.b-pc.t).attr("fill","#8aa975");
const tg = map.append("g").attr("mask","url(#mapMask)");
tg.append("rect").attr("x",1000).attr("y",400).attr("width",1200).attr("height",1100).attr("filter","url(#terrainLight)").attr("transform","rotate(14 1570 955)");
tg.append("rect").attr("x",1000).attr("y",400).attr("width",1200).attr("height",1100).attr("filter","url(#terrainDark)").attr("transform","rotate(14 1570 955)");
map.append("path").attr("d",d3.line().curve(d3.curveCatmullRom)(riverLon.map((v,i)=>[xC(v),yC(riverLat[i])]))).attr("fill","none").attr("stroke","#8ea9c6").attr("stroke-width",3);
const posOf = {};
nodeIds.forEach((id,i)=>posOf[id]=[xC(nodeLon[i]),yC(nodeLat[i])]);
outerSites.forEach((id,i)=>posOf[id]=[xC(outerLon[i]),yC(outerLat[i])]);
const edges = map.append("g").attr("fill","none").attr("stroke-linecap","round");
palePairs.forEach(e=>edges.append("line").attr("x1",posOf[e[0]][0]).attr("y1",posOf[e[0]][1]).attr("x2",posOf[e[1]][0]).attr("y2",posOf[e[1]][1]).attr("stroke",ibdColour(paleIBD)).attr("stroke-width",2.6));
longEdges.forEach(e=>{
  const a=posOf[e[0]],b=posOf[e[1]],dx=b[0]-a[0],dy=b[1]-a[1];
  const p=d3.path();p.moveTo(a[0],a[1]);
  p.quadraticCurveTo((a[0]+b[0])/2+dy*e[3],(a[1]+b[1])/2-dx*e[3],b[0],b[1]);
  edges.append("path").attr("d",p.toString()).attr("stroke",ibdColour(e[2])).attr("stroke-width",3);
});
hotEdges.forEach(e=>edges.append("line").attr("x1",posOf[e[0]][0]).attr("y1",posOf[e[0]][1]).attr("x2",posOf[e[1]][0]).attr("y2",posOf[e[1]][1]).attr("stroke",ibdColour(e[2])).attr("stroke-width",e[2]>=2000?3.6:3));
const nodeG = gC.append("g");
const allNodes = nodeIds.map((id,i)=>({key:id,name:"YPN"+String(id).padStart(3,"0"),side:nodeSide[i]})).concat(outerSites.map(n=>({key:n,name:n,side:"right"})));
allNodes.forEach(n=>{
  const [x,y]=posOf[n.key];
  nodeG.append("rect").attr("x",x-3.8).attr("y",y-3.8).attr("width",7.6).attr("height",7.6).attr("fill","#c9c9c9").attr("stroke","#111").attr("stroke-width",1.5);
  const t=nodeG.append("text").attr("font-size",18).attr("fill","#3c3c3c").attr("dy","0.35em").text(n.name);
  if(n.side==="left") t.attr("x",x-12).attr("y",y).attr("text-anchor","end");
  if(n.side==="right") t.attr("x",x+(n.key==="LHP002"||n.key==="THL002"?13:12.5)).attr("y",y+(n.key==="LHP002"?1:0));
  if(n.side==="top") t.attr("x",x).attr("y",y-17).attr("text-anchor","middle");
  if(n.side==="bottom") t.attr("x",x).attr("y",y+18.5).attr("text-anchor","middle");
});
[["Yappa Nhae 2",1231.5,663.5],["Lahu Pot",1644.5,990],["Tham Lod cave",1814,1240]].forEach(d=>gC.append("text").attr("x",d[1]).attr("y",d[2]).attr("dy","0.35em").attr("font-size",22).text(d[0]));
// colour bar
const cbScale = d3.scaleLinear().domain([0,2000]).range([845,685]);
const lg = defs.append("linearGradient").attr("id","ibdGrad").attr("x1",0).attr("x2",0).attr("y1",1).attr("y2",0);
ibdStops.forEach((v,i)=>lg.append("stop").attr("offset",v/2000).attr("stop-color",ibdColours[i]));
gC.append("rect").attr("x",1809).attr("y",685).attr("width",33).attr("height",160).attr("fill","url(#ibdGrad)");
ibdStops.forEach(v=>{
  [[1809,1815],[1836,1842]].forEach(s=>gC.append("line").attr("x1",s[0]).attr("x2",s[1]).attr("y1",cbScale(v)).attr("y2",cbScale(v)).attr("stroke","#fff").attr("stroke-width",1.2));
  gC.append("text").attr("x",1853).attr("y",cbScale(v)-1).attr("dy","0.35em").attr("font-size",22).text(v);
});
gC.append("text").attr("x",1809).attr("y",663).attr("dy","0.35em").attr("font-size",22).text("total IBD length");
gC.append("rect").attr("x",pc.l).attr("y",pc.t).attr("width",pc.r-pc.l).attr("height",pc.b-pc.t).attr("fill","none").attr("stroke","#444").attr("stroke-width",2.2);
const axisCx = d3.axisBottom(xC).tickValues([98.22,98.24,98.26,98.28]).tickSize(5).tickPadding(9).tickFormat(d3.format(".2f"));
const axisCy = d3.axisLeft(yC).tickValues([19.57,19.58,19.59,19.6,19.61]).tickSize(5).tickPadding(6).tickFormat(d3.format(".2f"));
gC.append("g").attr("transform",`translate(0,${pc.b})`).call(axisCx).call(styleAxis,1.6);
gC.append("g").attr("transform",`translate(${pc.l},0)`).call(axisCy).call(styleAxis,1.6);
gC.append("text").attr("x",1578.6).attr("y",1310).attr("dy","0.35em").attr("text-anchor","middle").attr("font-size",FS).text("Longitude");
gC.append("text").attr("transform","translate(1075,946) rotate(-90)").attr("dy","0.35em").attr("text-anchor","middle").attr("font-size",FS).text("Latitude");
</script></body></html>
